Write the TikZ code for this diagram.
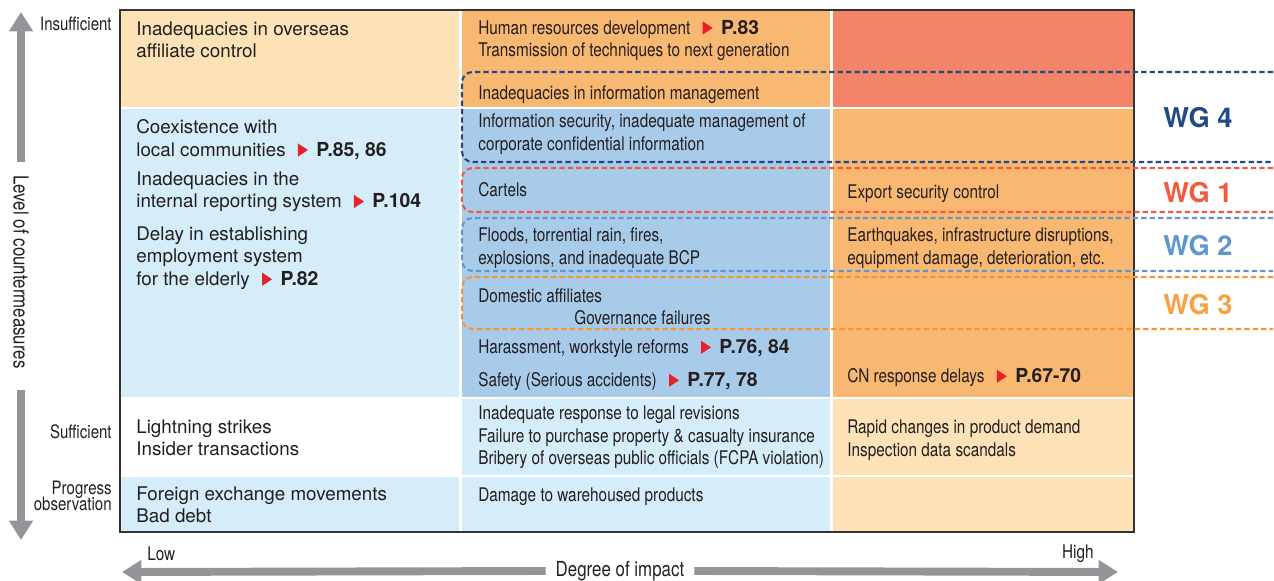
\documentclass[tikz,border=0pt]{standalone}
\usepackage{fontspec}
\setmainfont{TeX Gyre Heros}
\newfontfamily\cnfont[FakeStretch=0.815]{TeX Gyre Heros}
\usetikzlibrary{arrows.meta}

\definecolor{txt}{HTML}{231F20}
\definecolor{axgray}{HTML}{939598}
\definecolor{peach}{HTML}{FDE2B7}
\definecolor{orng}{HTML}{F9B871}
\definecolor{salmon}{HTML}{F38467}
\definecolor{lblue}{HTML}{D5ECF9}
\definecolor{mblue}{HTML}{A9CBEA}
\definecolor{pgred}{HTML}{E8202A}
\definecolor{wgfour}{HTML}{1F4A85}
\definecolor{wgone}{HTML}{F15A3C}
\definecolor{wgtwo}{HTML}{6096D0}
\definecolor{wgthree}{HTML}{F7952E}

% red pointer and page reference
\newcommand{\pref}[1]{\hspace{0.65em}\tikz[baseline=0pt]\fill[pgred] (0pt,-0.3pt) -- (0pt,7.2pt) -- (5.7pt,3.45pt) -- cycle;\hspace{0.45em}{\normalfont\bfseries\fontsize{11}{12.8}\selectfont #1}}
% tight side labels
\newcommand{\sidefont}{\cnfont\fontsize{10.5}{9}\selectfont\lineskiplimit -6pt\relax}

\begin{document}
\begin{tikzpicture}[x=0.02cm, y=-0.02cm,
  cell/.style={anchor=west, align=left, inner sep=0pt, text=txt, font=\fontsize{10.7}{12.8}\selectfont},
  cellcn/.style={cell, yshift=-0.2pt, font=\cnfont\fontsize{10.7}{12.9}\selectfont},
  side/.style={anchor=east, align=right, inner sep=0pt, text=txt, font=\sidefont},
  wg/.style={line width=1.2pt, dash pattern=on 3pt off 1.8pt, rounded corners=6pt},
  wglab/.style={font=\bfseries\fontsize{15.5}{16}\selectfont, inner sep=0pt},
  bigarrow/.style={draw=axgray, line width=4.5pt, -{Triangle[width=13pt,length=11pt]}}]
\useasboundingbox (0,0) rectangle (1274,581);

% matrix cells
\foreach \xa/\xb/\ya/\yb/\c in {
  120/460/10/108/peach, 460/831/10/108/orng, 831/1134/10/108/salmon,
  120/460/108/398/lblue, 460/831/108/398/mblue, 831/1134/108/398/orng,
  120/460/398/476/white, 460/831/398/476/lblue, 831/1134/398/476/peach,
  120/460/476/532/lblue, 460/831/476/532/lblue, 831/1134/476/532/peach} {
  \fill[\c] (\xa,\ya) rectangle (\xb,\yb);
}
\foreach \y in {108,398,476} {
  \draw[white, line width=1.7pt] (120,\y) -- (1134,\y);
}
\foreach \x in {460,831} {
  \draw[white, line width=1.7pt] (\x,10) -- (\x,532);
}
\draw[black!80, line width=0.6pt] (120,10) rectangle (1134,532);

% working groups
\draw[wg, draw=wgfour] (1273,72) -- (462,72) -- (462,162) -- (1273,162);
\draw[wg, draw=wgone] (1273,168) -- (462,168) -- (462,212) -- (1273,212);
\draw[wg, draw=wgtwo] (1273,218) -- (462,218) -- (462,271) -- (1273,271);
\draw[wg, draw=wgthree] (1273,277) -- (462,277) -- (462,329) -- (1273,329);
\node[wglab, text=wgfour] (wg4) at (1198,118) {WG 4};
\node[wglab, text=wgone] (wg1) at (1198,193) {WG 1};
\node[wglab, text=wgtwo] (wg2) at (1198,246) {WG 2};
\node[wglab, text=wgthree!90!white] (wg3) at (1198,305) {WG 3};

% low impact column
\node[cell] (overseas) at (136,40) {Inadequacies in overseas\\affiliate control};
\node[cell] (coexist) at (136,139.5) {Coexistence with\\local communities\pref{P.85, 86}};
\node[cell] (reporting) at (136,191.5) {Inadequacies in the\\internal reporting system\pref{P.104}};
\node[cell] (elderly) at (136,258) {Delay in establishing\\employment system\\for the elderly\pref{P.82}};
\node[cell] (lightning) at (136,438) {Lightning strikes\\Insider transactions};
\node[cell] (forex) at (136,505) {Foreign exchange movements\\Bad debt};

% middle column
\node[cellcn] (hr) at (478,40) {Human resources development\pref{P.83}\\Transmission of techniques to next generation};
\node[cellcn] (infomgmt) at (478,94) {Inadequacies in information management};
\node[cellcn] (infosec) at (478,134) {Information security, inadequate management of\\corporate confidential information};
\node[cellcn] (cartels) at (478,189.5) {Cartels};
\node[cellcn] (floods) at (478,247.5) {Floods, torrential rain, fires,\\explosions, and inadequate BCP};
\node[cellcn] (domestic) at (478,295) {Domestic affiliates};
\node[cellcn] (governance) at (574,317) {Governance failures};
\node[cellcn] (harass) at (478,348) {Harassment, workstyle reforms\pref{P.76, 84}};
\node[cellcn] (safety) at (478,381) {Safety (Serious accidents)\pref{P.77, 78}};
\node[cellcn] (legal) at (478,437) {Inadequate response to legal revisions\\Failure to purchase property \& casualty insurance\\Bribery of overseas public officials (FCPA violation)};
\node[cellcn] (warehouse) at (478,496) {Damage to warehoused products};

% high impact column
\node[cellcn] (export) at (847,193) {Export security control};
\node[cellcn] (quake) at (847,247.5) {Earthquakes, infrastructure disruptions,\\equipment damage, deterioration, etc.};
\node[cellcn] (cn) at (847,377) {CN response delays\pref{P.67-70}};
\node[cellcn] (demand) at (847,440) {Rapid changes in product demand\\Inspection data scandals};

% vertical axis
\node[side] (insuff) at (112,24) {Insufficient};
\node[side] (suff) at (112,432) {Sufficient};
\node[side] (progress) at (112,496) {Progress\\observation};
\node[rotate=-90, inner sep=0pt, text=txt, font=\cnfont\fontsize{11.8}{12}\selectfont] (ylab) at (21,272) {Level of countermeasures};
\coordinate (yupstart) at (21,162);
\coordinate (yuptip) at (21,12);
\coordinate (ydnstart) at (21,390);
\coordinate (ydntip) at (21,540);
\draw[bigarrow] (yupstart) -- (yuptip);
\draw[bigarrow] (ydnstart) -- (ydntip);

% horizontal axis
\node[inner sep=5.5pt, text=txt, font=\cnfont\fontsize{11.8}{12}\selectfont] (xlab) at (620,571) {Degree of impact};
\coordinate (xlowtip) at (122,572);
\coordinate (xhightip) at (1118,572);
\draw[bigarrow] (xlab.west) -- (xlowtip);
\draw[bigarrow] (xlab.east) -- (xhightip);
\node[anchor=west, inner sep=0pt, text=txt, font=\cnfont\fontsize{10.7}{12}\selectfont] (low) at (147,554) {Low};
\node[anchor=east, inner sep=0pt, text=txt, font=\cnfont\fontsize{10.7}{12}\selectfont] (high) at (1094,554) {High};
\end{tikzpicture}
\end{document}
